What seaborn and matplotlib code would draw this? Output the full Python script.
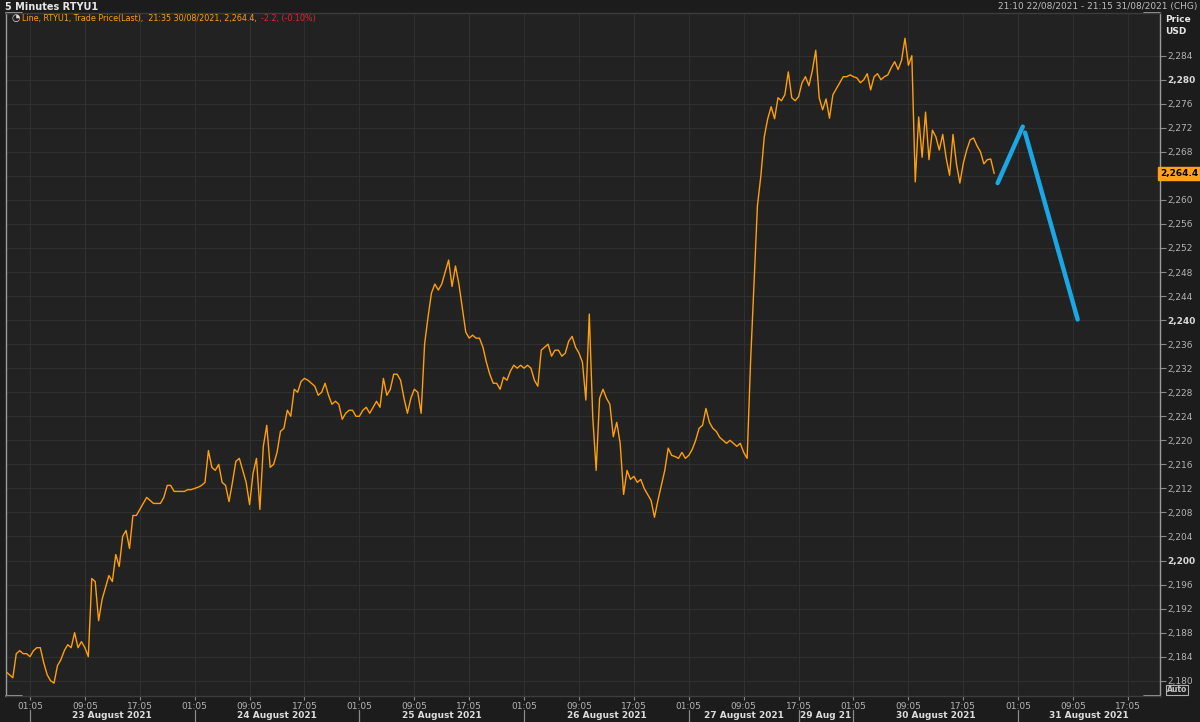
import numpy as np
import pandas as pd
import matplotlib
matplotlib.use('Agg')
import matplotlib.pyplot as plt
import matplotlib.transforms as mtransforms
import seaborn as sns

# RTYU1 closes, 30 min apart, one list per calendar day
aug22 = [2181.5, 2181.0, 2180.5, 2184.5, 2185.0]
aug23 = [2184.5, 2184.5, 2184.0, 2185.0, 2185.5, 2185.5, 2183.0, 2181.0, 2180.0, 2179.6,
         2182.5, 2183.5, 2185.0, 2186.0, 2185.5, 2188.0, 2185.5, 2186.5, 2185.5, 2184.0,
         2197.0, 2196.5, 2190.0, 2193.5, 2195.5, 2197.5, 2196.5, 2201.0, 2199.0, 2204.0,
         2205.0, 2202.0, 2207.5, 2207.5, 2208.5, 2209.5, 2210.5, 2210.0, 2209.5, 2209.5,
         2209.5, 2210.5, 2212.5, 2212.5, 2211.5, 2211.5, 2211.5, 2211.5]
aug24 = [2211.8, 2211.8, 2212.0, 2212.2, 2212.5, 2213.0, 2218.3, 2215.5, 2215.0, 2216.0,
         2213.0, 2212.5, 2209.8, 2213.0, 2216.5, 2217.0, 2215.0, 2213.0, 2209.3, 2214.5,
         2217.0, 2208.5, 2219.0, 2222.5, 2215.5, 2216.0, 2218.0, 2221.5, 2222.0, 2225.0,
         2224.0, 2228.5, 2228.0, 2229.8, 2230.3, 2230.0, 2229.5, 2229.0, 2227.5, 2228.0,
         2229.5, 2227.5, 2226.0, 2226.5, 2226.0, 2223.5, 2224.5, 2225.0]
aug25 = [2225.0, 2224.0, 2224.0, 2225.0, 2225.5, 2224.5, 2225.5, 2226.5, 2225.5, 2230.3,
         2227.5, 2228.5, 2231.0, 2231.0, 2230.0, 2227.0, 2224.5, 2227.0, 2228.5, 2228.0,
         2224.5, 2236.0, 2240.5, 2244.5, 2246.0, 2245.0, 2246.0, 2248.0, 2250.0, 2245.6,
         2249.0, 2246.0, 2242.0, 2238.0, 2237.0, 2237.5, 2237.0, 2237.0, 2235.5, 2233.0,
         2231.0, 2229.5, 2229.5, 2228.5, 2230.5, 2230.0, 2231.5, 2232.5]
aug26 = [2232.0, 2232.5, 2232.0, 2232.5, 2232.0, 2230.0, 2229.0, 2235.0, 2235.5, 2236.0,
         2234.0, 2235.0, 2235.0, 2234.0, 2234.5, 2236.5, 2237.3, 2235.5, 2234.5, 2233.0,
         2226.7, 2241.0, 2224.0, 2215.0, 2227.0, 2228.5, 2227.0, 2226.0, 2220.6, 2223.0,
         2219.5, 2211.0, 2215.0, 2213.5, 2214.0, 2213.0, 2213.5, 2212.0, 2211.0, 2210.0,
         2207.2, 2210.0, 2212.5, 2215.0, 2218.7, 2217.5, 2217.3, 2217.0]
aug27 = [2218.0, 2217.0, 2217.5, 2218.5, 2220.0, 2222.0, 2222.5, 2225.3, 2223.0, 2222.0,
         2221.5, 2220.5, 2220.0, 2219.5, 2220.0, 2219.5, 2219.0, 2219.5, 2218.0, 2217.0,
         2233.0, 2246.0, 2259.0, 2264.0, 2270.5, 2273.5, 2275.5, 2273.5, 2277.0, 2276.5,
         2277.5, 2281.3, 2277.0, 2276.5]
aug29 = [2277.2, 2279.5, 2280.5, 2279.0, 2281.5, 2284.9, 2277.0, 2275.0, 2276.8, 2273.6,
         2277.5, 2278.5, 2279.5, 2280.5]
aug30 = [2280.5, 2280.8, 2280.5, 2280.3, 2279.5, 2280.0, 2281.0, 2278.3, 2280.5, 2281.0,
         2280.0, 2280.5, 2280.8, 2282.0, 2283.0, 2281.7, 2283.2, 2286.9, 2282.4, 2284.0,
         2263.0, 2273.8, 2267.1, 2274.6, 2266.7, 2271.6, 2270.5, 2268.3, 2270.9, 2267.0,
         2264.1, 2270.9, 2266.0, 2262.8, 2266.1, 2268.3, 2270.0, 2270.3, 2269.0, 2268.0,
         2266.0, 2266.7, 2266.8, 2264.4]

# hand drawn blue projection (two strokes)
sketch_times = ['2021-08-30 22:05', '2021-08-31 01:45', '2021-08-31 02:05', '2021-08-31 09:45']
sketch_prices = [2262.8, 2272.2, 2271.2, 2240.1]
sketch_stroke = [1, 1, 2, 2]

tick_dates = ['2021-08-23', '2021-08-24', '2021-08-25', '2021-08-26', '2021-08-27',
              '2021-08-30', '2021-08-31']
tick_clock = ['01:05', '09:05', '17:05']
day_labels = ['23 August 2021', '24 August 2021', '25 August 2021', '26 August 2021',
              '27 August 2021', '29 Aug 21', '30 August 2021', '31 August 2021']
day_bounds = ['2021-08-23 01:05', '2021-08-24 01:05', '2021-08-25 01:05', '2021-08-26 01:05',
              '2021-08-27 01:05', '2021-08-29 17:05', '2021-08-30 01:05', '2021-08-31 01:05',
              '2021-08-31 21:45']
price_ticks = list(range(2180, 2285, 4))

t0 = pd.Timestamp('2021-08-22 21:10')


def trading_hours(ts):
    # hours since chart start, with the weekend (Fri 17:05 -> Sun 17:05) squeezed out
    ts = pd.Series(pd.to_datetime(ts))
    hours = (ts - t0).dt.total_seconds() / 3600
    hours[ts >= pd.Timestamp('2021-08-28')] -= 48
    return hours.to_numpy()


times = pd.date_range('2021-08-22 21:35', '2021-08-27 16:35', freq='30min').append(
    pd.date_range('2021-08-29 17:05', '2021-08-30 21:35', freq='30min'))
price = aug22 + aug23 + aug24 + aug25 + aug26 + aug27 + aug29 + aug30
df = pd.DataFrame({'hours': trading_hours(times), 'price': price})
sketch = pd.DataFrame({'hours': trading_hours(sketch_times), 'price': sketch_prices,
                       'stroke': sketch_stroke})

sns.set_theme(style='dark')
plt.rcParams['font.family'] = ['DejaVu Sans']

bg = '#1c1c1c'
fig = plt.figure(figsize=(12, 7.22), dpi=100, facecolor=bg)
ax = fig.add_axes([6 / 1200, 26 / 722, 1154 / 1200, 683 / 722])
ax.set_facecolor('#222222')

sns.lineplot(data=df, x='hours', y='price', ax=ax, color='#ff9f0a', lw=1.0)
sns.lineplot(data=sketch, x='hours', y='price', units='stroke', estimator=None, ax=ax,
             color='#1ba6e6', lw=3.2, solid_capstyle='round')

ax.set_xlim(0.42, 168.58)
ax.set_ylim(2177.46, 2291.1)
ax.set_xlabel('')
ax.set_ylabel('')

# x ticks every 8 hours
tick_times = [f'{d} {c}' for d in tick_dates for c in tick_clock]
ax.set_xticks(trading_hours(tick_times))
ax.set_xticklabels([c for d in tick_dates for c in tick_clock])
ax.tick_params(axis='x', bottom=True, direction='out', length=3, width=0.8,
               color='#8a8a8a', pad=1.5, labelsize=6.5, labelcolor='#b4b4b4')

last = price[-1]

# price scale on the right
ax.yaxis.tick_right()
ax.set_yticks(price_ticks)
ax.set_yticklabels([f'{p:,}' for p in price_ticks])
ax.tick_params(axis='y', right=True, left=False, direction='out', length=4, width=0.8,
               color='#8a8a8a', pad=1.5, labelsize=6.5, labelcolor='#b4b4b4')
for lab, p in zip(ax.get_yticklabels(), price_ticks):
    if p % 40 == 0:
        lab.set_fontweight('bold')
        lab.set_color('#d8d8d8')
    if abs(p - last) < 1.5:
        lab.set_visible(False)  # hidden under the last-price tag

ax.grid(True, color='#303030', lw=0.8)
for side in ['left', 'right']:
    ax.spines[side].set_color('#9c9c9c')
    ax.spines[side].set_linewidth(1.0)
for side in ['top', 'bottom']:
    ax.spines[side].set_color('#3c3c3c')
    ax.spines[side].set_linewidth(1.0)

# corner brackets
for xs, ys in [([0, 0.014], [0, 0]), ([0.986, 1], [0, 0]), ([0.986, 1], [1, 1]), ([0, 0.014], [1, 1])]:
    ax.plot(xs, ys, transform=ax.transAxes, color='#b8b8b8', lw=1.2, clip_on=False)

# day sections under the time labels
trans = mtransforms.blended_transform_factory(ax.transData, ax.transAxes)
bounds = trading_hours(day_bounds)
for i, lab in enumerate(day_labels):
    mid = (bounds[i] + bounds[i + 1]) / 2
    ax.text(mid, -0.029, lab, transform=trans, ha='center', va='center', fontsize=6.5,
            fontweight='bold', color='#dcdcdc')
for b in bounds[:-1]:
    ax.plot([b, b], [-0.021, -0.04], transform=trans, color='#8a8a8a', lw=0.9, clip_on=False)

# last price tag
ax.text(1.0, last, f'{last:,.1f}', transform=mtransforms.blended_transform_factory(ax.transAxes, ax.transData),
        ha='left', va='center', fontsize=6.5, fontweight='bold', color='#000000', zorder=5,
        bbox=dict(boxstyle='square,pad=0.2', fc='#ffa21a', ec='#ffa21a'))

# header texts
fig.text(5 / 1200, 1 - 6.5 / 722, '5 Minutes RTYU1', ha='left', va='center', fontsize=7,
         fontweight='bold', color='#e6e6e6')
fig.text(1197 / 1200, 1 - 6.5 / 722, '21:10 22/08/2021 - 21:15 31/08/2021 (CHG)', ha='right',
         va='center', fontsize=6.5, color='#bdbdbd')
fig.text(12 / 1200, 1 - 18.5 / 722, '\u25d4', ha='left', va='center', fontsize=7, color='#e0e0e0')
info = fig.text(22 / 1200, 1 - 18.5 / 722, 'Line, RTYU1, Trade Price(Last),  21:35 30/08/2021, 2,264.4,',
                ha='left', va='center', fontsize=5.8, color='#ff9f0a')
fig.canvas.draw()
info_end = info.get_window_extent().x1 / fig.bbox.width
fig.text(info_end + 4 / 1200, 1 - 18.5 / 722, '-2.2, (-0.10%)', ha='left', va='center', fontsize=5.8,
         color='#e8232a')
fig.text(1165 / 1200, 1 - 19 / 722, 'Price', ha='left', va='center', fontsize=6.5,
         fontweight='bold', color='#e6e6e6')
fig.text(1165 / 1200, 1 - 31 / 722, 'USD', ha='left', va='center', fontsize=6.5,
         fontweight='bold', color='#e6e6e6')
fig.text(1167 / 1200, 1 - 690 / 722, 'Auto', ha='left', va='center', fontsize=5.5,
         fontweight='bold', color='#c8c8c8',
         bbox=dict(boxstyle='square,pad=0.12', fc=bg, ec='#b0b0b0', lw=0.8))

fig.savefig('out.png', dpi=100, facecolor=bg)
